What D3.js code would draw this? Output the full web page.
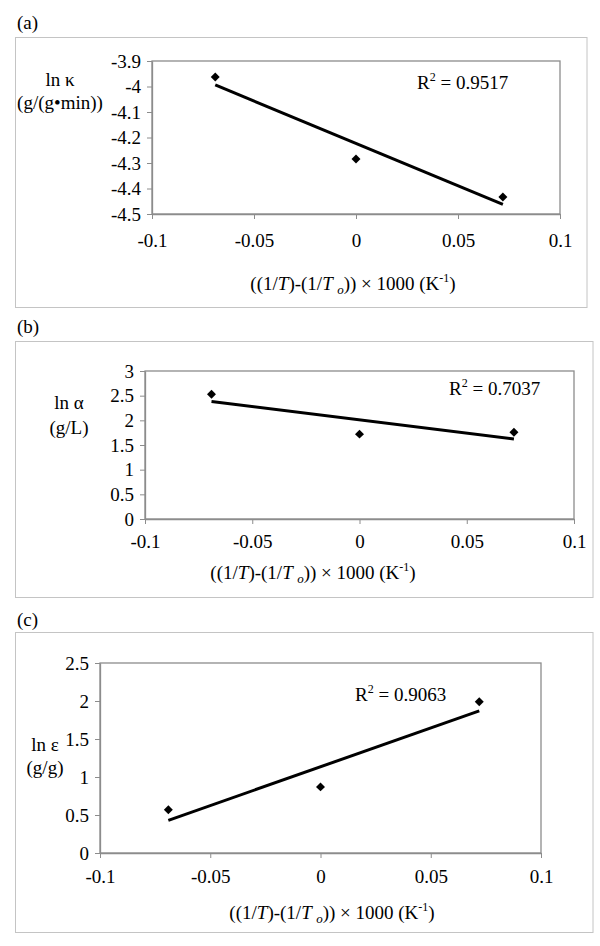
<!DOCTYPE html>
<html>
<head>
	<script src="https://d3js.org/d3.v7.min.js"></script>
	<meta charset="UTF-8">
	<style>
		body{ margin: 0; background-color: #ffffff; }
		text{ font-family: "Liberation Serif", "Times New Roman", serif; fill: #000; }
	</style>
</head>
<body>
	<script type="text/javascript">
		// data
		var xTicks = [-0.1, -0.05, 0, 0.05, 0.1];
		var tempX = [-0.069, 0, 0.072];
		var lnKappa = [-3.963, -4.284, -4.433];
		var lnAlpha = [2.53, 1.72, 1.76];
		var lnEps = [0.57, 0.87, 1.99];
		// trendline end points
		var fitX = [-0.069, 0.072];
		var fitKappa = [-3.994, -4.462];
		var fitAlpha = [2.38, 1.62];
		var fitEps = [0.43, 1.87];
		var yTicksA = [-3.9, -4, -4.1, -4.2, -4.3, -4.4, -4.5];
		var yTicksB = [0, 0.5, 1, 1.5, 2, 2.5, 3];
		var yTicksC = [0, 0.5, 1, 1.5, 2, 2.5];
		var r2Labels = ["0.9517", "0.7037", "0.9063"];
		var panelNames = ["(a)", "(b)", "(c)"];

		var w = 600, h = 946;
		var fs = "19px";
		var svg = d3.select('body').append('svg').attr('width', w).attr('height', h);
		svg.append("rect").attr("width", w).attr("height", h).attr("fill", "#fff");

		var fmt = function(d){ return String(+d.toFixed(2)); };

		function drawPanel(p){
			// panel letter
			svg.append("text").attr("x", 17).attr("y", p.letterY).style("font-size", fs).text(p.name);
			// outer box
			svg.append("rect").attr("x", 15.5).attr("y", p.box[0] + 0.5)
				.attr("width", p.boxRight - 15.5).attr("height", p.box[1] - p.box[0])
				.attr("fill", "none").attr("stroke", "#c4c4c4").attr("stroke-width", 1);

			var x = d3.scaleLinear().domain([-0.1, 0.1]).range([p.left, p.right]);
			var y = d3.scaleLinear().domain(d3.extent(p.yTicks)).range([p.bottom, p.top]);

			// plot area frame
			svg.append("rect").attr("x", p.left).attr("y", p.top)
				.attr("width", p.right - p.left).attr("height", p.bottom - p.top)
				.attr("fill", "none").attr("stroke", "#8c8c8c").attr("stroke-width", 1.3);

			var gx = svg.append("g").attr("transform", "translate(0," + p.bottom + ")")
				.call(d3.axisBottom(x).tickValues(xTicks).tickFormat(fmt).tickSize(5).tickPadding(p.xPad).tickSizeOuter(0));
			var gy = svg.append("g").attr("transform", "translate(" + p.left + ",0)")
				.call(d3.axisLeft(y).tickValues(p.yTicks).tickFormat(fmt).tickSize(5).tickPadding(6).tickSizeOuter(0));
			[gx, gy].forEach(function(g){
				g.select(".domain").attr("stroke", "#8c8c8c").attr("stroke-width", 1.3);
				g.selectAll(".tick line").attr("stroke", "#8c8c8c");
				g.selectAll(".tick text").attr("fill", "#000").style("font-size", fs)
					.style("font-family", "'Liberation Serif', 'Times New Roman', serif");
			});

			// trendline
			var line = d3.line().x(function(d){ return x(d[0]); }).y(function(d){ return y(d[1]); });
			svg.append("path").attr("d", line(d3.zip(fitX, p.fit)))
				.attr("stroke", "#000").attr("stroke-width", 3).attr("fill", "none");

			// markers
			svg.selectAll(null).data(d3.zip(tempX, p.values)).enter().append("path")
				.attr("d", d3.symbol().type(d3.symbolSquare).size(40))
				.attr("transform", function(d){ return "translate(" + x(d[0]) + "," + y(d[1]) + ") rotate(45)"; })
				.attr("fill", "#000");

			// R squared
			var r = svg.append("text").attr("x", p.r2[0]).attr("y", p.r2[1]).style("font-size", fs);
			r.append("tspan").text("R");
			r.append("tspan").attr("dy", -8).style("font-size", "12px").text("2");
			r.append("tspan").attr("dy", 8).text(" = " + p.r2Text);

			// y title
			svg.append("text").attr("x", p.yt[0]).attr("y", p.yt[1]).attr("text-anchor", "middle")
				.style("font-size", fs).text(p.yName);
			svg.append("text").attr("x", p.yt[0]).attr("y", p.yt[2]).attr("text-anchor", "middle")
				.style("font-size", fs).text(p.yUnit);

			// x title
			var t = svg.append("text").attr("x", p.xt[0]).attr("y", p.xt[1]).attr("text-anchor", "middle").style("font-size", fs);
			t.append("tspan").text("((1/");
			t.append("tspan").style("font-style", "italic").text("T");
			t.append("tspan").text(")-(1/");
			t.append("tspan").style("font-style", "italic").text("T ");
			t.append("tspan").attr("dy", 4).style("font-size", "13px").style("font-style", "italic").text("o");
			t.append("tspan").attr("dy", -4).text(")) \u00d7 1000 (K");
			t.append("tspan").attr("dy", -8).style("font-size", "12px").text("-1");
			t.append("tspan").attr("dy", 8).text(")");
		}

		drawPanel({name: panelNames[0], letterY: 29, box: [37, 307], boxRight: 587,
			left: 152, right: 560, top: 61, bottom: 214, yTicks: yTicksA, xPad: 15,
			values: lnKappa, fit: fitKappa, r2: [417, 89], r2Text: r2Labels[0],
			yName: "ln \u03ba", yUnit: "(g/(g\u2022min))", yt: [60, 86, 109], xt: [353, 290]});

		drawPanel({name: panelNames[1], letterY: 333, box: [341, 597], boxRight: 593,
			left: 145, right: 574, top: 371, bottom: 519, yTicks: yTicksB, xPad: 11,
			values: lnAlpha, fit: fitAlpha, r2: [449, 395], r2Text: r2Labels[1],
			yName: "ln \u03b1", yUnit: "(g/L)", yt: [69, 409, 434], xt: [313, 579]});

		drawPanel({name: panelNames[2], letterY: 626, box: [632, 932], boxRight: 593,
			left: 100, right: 541, top: 663, bottom: 853, yTicks: yTicksC, xPad: 12,
			values: lnEps, fit: fitEps, r2: [355, 701], r2Text: r2Labels[2],
			yName: "ln \u03b5", yUnit: "(g/g)", yt: [45, 751, 774], xt: [332, 919]});
	</script>
</body>
</html>
